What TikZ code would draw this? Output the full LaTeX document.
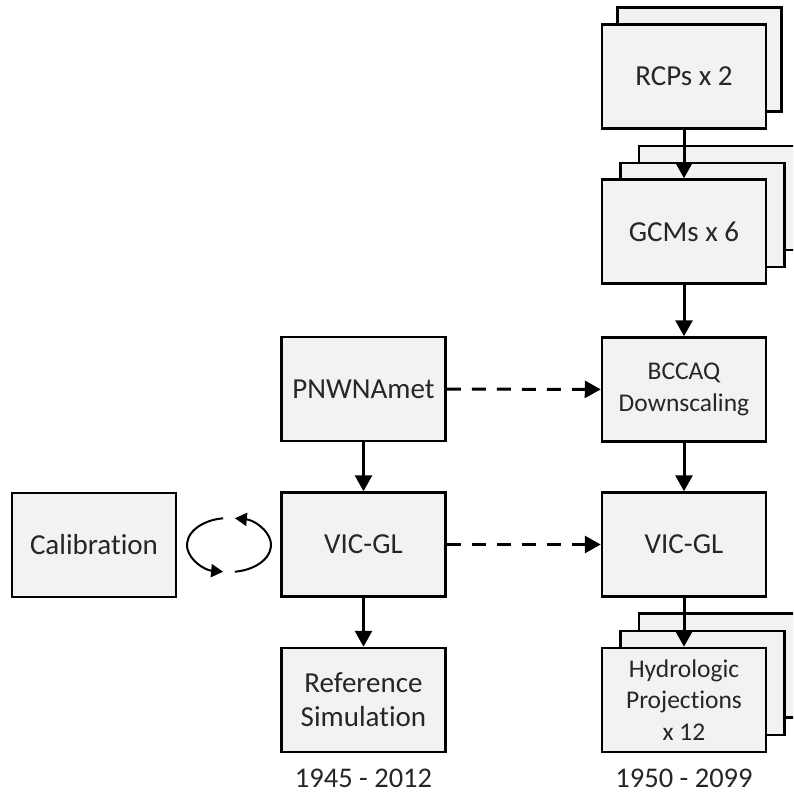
\documentclass[tikz,border=0pt]{standalone}
\usepackage{fontspec}
\setmainfont{Carlito}[Ligatures=NoCommon]
\usetikzlibrary{arrows.meta}
\begin{document}
\begin{tikzpicture}[x=1pt,y=-1pt,
  box/.style={draw=black, line width=2.5pt, fill=gray!10, minimum width=164pt, minimum height=104pt, inner sep=2pt, align=center, text=black!85, font=\fontsize{29}{34}\selectfont},
  smallbox/.style={box, font=\fontsize{25.5}{31.5}\selectfont},
  flow/.style={line width=3pt, -{Triangle[length=16pt,width=17pt]}},
  dflow/.style={flow, dash pattern=on 14pt off 11pt},
  loopar/.style={line width=2pt, -{Triangle[length=12pt,width=13pt]}},
  year/.style={text=black!85, inner sep=0pt, font=\fontsize{28.5}{32}\selectfont}]
\useasboundingbox (0,0) rectangle (793,795);
\clip (0,0) rectangle (793,795);
% right column stacks
\node[box] (rcpb) at (699.5,59.5) {};
\node[box] (rcp) at (684,76.5) {RCPs x 2};
\node[box] (gcmb) at (721,198) {};
\node[box] (gcmm) at (702.5,215) {};
\node[box] (gcm) at (684,231.5) {GCMs x 6};
\node[smallbox] (bcc) at (684,389.5) {BCCAQ\\Downscaling};
\node[box] (vicr) at (684,544.5) {VIC-GL};
\node[box] (hydb) at (721,665.5) {};
\node[box] (hydm) at (702.5,683) {};
\node[smallbox] (hyd) at (684,700) {Hydrologic\\Projections\\x 12};
% left column
\node[box] (pnw) at (363.5,389) {PNWNAmet};
\node[box] (vicl) at (363.5,544.5) {VIC-GL};
\node[box] (ref) at (363.5,700) {Reference\\Simulation};
\node[box] (cal) at (94,545) {Calibration};
% years
\node[year] (yl) at (363.5,778) {1945 - 2012};
\node[year] (yr) at (684,778) {1950 - 2099};
% arrows
\draw[flow] (rcp) -- (gcm);
\draw[flow] (gcm) -- (bcc);
\draw[flow] (bcc) -- (vicr);
\draw[flow] (vicr) -- (hyd);
\draw[flow] (pnw) -- (vicl);
\draw[flow] (vicl) -- (ref);
\draw[dflow] (pnw) -- (bcc);
\draw[dflow] (vicl) -- (vicr);
% calibration loop
\coordinate (loopc) at (229,545);
\draw[loopar] (loopc) ++(262:42 and 27) arc[start angle=262, end angle=98, x radius=42, y radius=27];
\draw[loopar] (loopc) ++(82:42 and 27) arc[start angle=82, end angle=-82, x radius=42, y radius=27];
\end{tikzpicture}
\end{document}
